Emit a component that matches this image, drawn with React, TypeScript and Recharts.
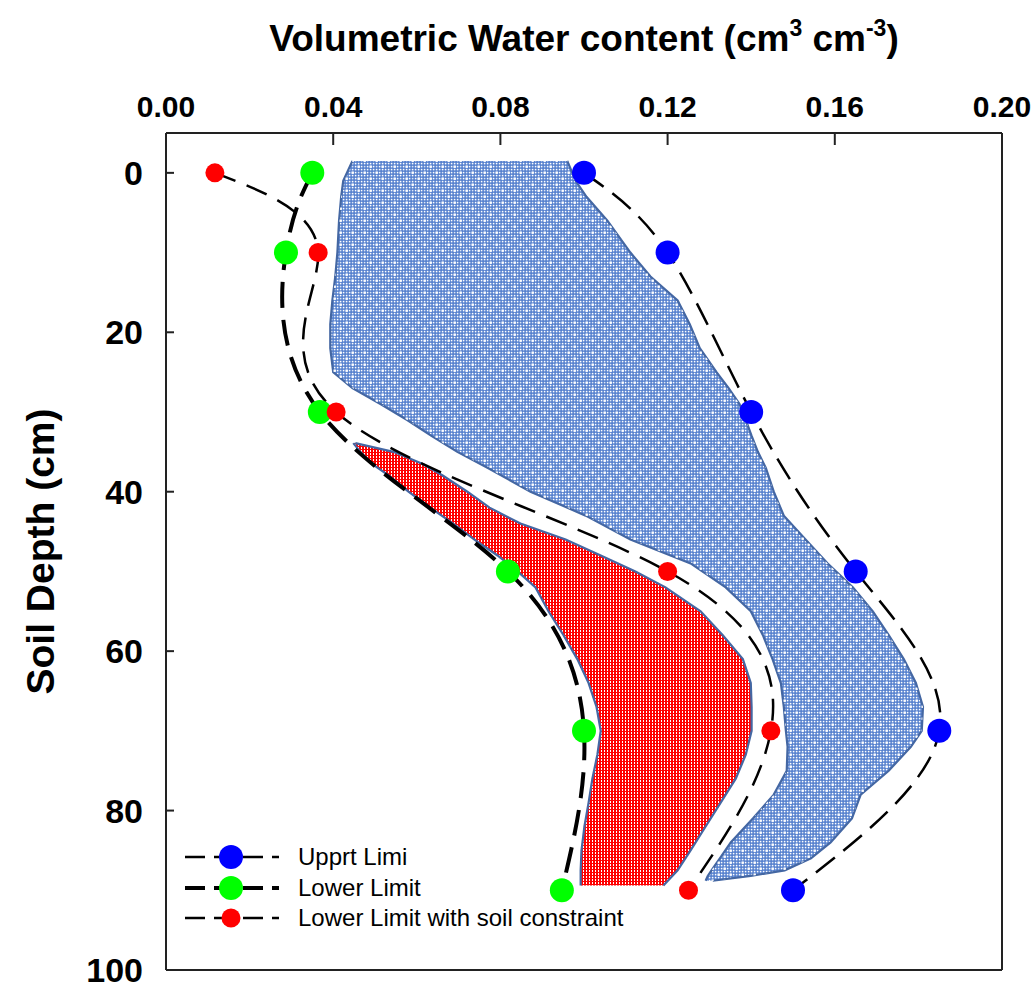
import React from 'react';
import { ComposedChart, Line, Area, XAxis, YAxis, Legend, Label } from 'recharts';

// ---- data ----
const depths = [0, 10, 30, 50, 70, 90];
const upperLimit = [0.1, 0.12, 0.14, 0.165, 0.185, 0.15];
const lowerLimit = [0.035, 0.0287, 0.0368, 0.0818, 0.1, 0.0947];
const lowerLimitConstraint = [0.0117, 0.0364, 0.0407, 0.12, 0.1447, 0.125];

const seriesNames = ['Upprt Limi', 'Lower Limit', 'Lower Limit with soil constraint'];

// blue shaded region (available water), left/right boundary per depth
const blueShapeDepth = [-1.5, 1, 3, 6, 10, 13, 16, 19, 22, 25, 27, 29, 31, 33, 35, 37, 40, 43, 46, 49, 52, 55, 58, 61, 64, 67, 70, 72, 75, 78, 81, 84, 86, 87.5, 88.2, 88.8];
const blueShapeLeft = [0.0446, 0.0424, 0.0419, 0.0414, 0.041, 0.0405, 0.0398, 0.0393, 0.0393, 0.04, 0.0446, 0.0513, 0.0577, 0.0635, 0.0697, 0.0769, 0.0872, 0.1004, 0.1111, 0.1255, 0.1339, 0.1399, 0.1428, 0.1451, 0.1471, 0.1478, 0.1483, 0.1487, 0.1485, 0.1454, 0.1404, 0.1351, 0.1325, 0.1305, 0.1296, 0.1291];
const blueShapeRight = [0.096, 0.098, 0.1006, 0.1056, 0.1111, 0.1159, 0.1224, 0.1253, 0.1277, 0.1317, 0.1346, 0.1372, 0.1387, 0.1401, 0.1416, 0.1435, 0.1454, 0.1478, 0.153, 0.1583, 0.1643, 0.1691, 0.1729, 0.1765, 0.1794, 0.1811, 0.1808, 0.1782, 0.1729, 0.1662, 0.1641, 0.159, 0.1543, 0.148, 0.1399, 0.1308];

// red shaded region
const redShapeDepth = [33.9, 35, 36.5, 38, 40, 42, 44, 46, 48, 50, 52, 55, 58, 61, 64, 67, 70, 73, 76, 79, 82, 85, 87.5, 89.4];
const redShapeLeft = [0.0448, 0.0465, 0.0493, 0.0534, 0.058, 0.0632, 0.0687, 0.0738, 0.0793, 0.0841, 0.0884, 0.0915, 0.0951, 0.0984, 0.1011, 0.103, 0.104, 0.1032, 0.102, 0.1011, 0.1001, 0.0994, 0.0992, 0.0992];
const redShapeRight = [0.0453, 0.0544, 0.0613, 0.0663, 0.0721, 0.0774, 0.0848, 0.0956, 0.104, 0.1123, 0.1195, 0.1279, 0.1332, 0.138, 0.1399, 0.1401, 0.1401, 0.1387, 0.1363, 0.1327, 0.1291, 0.1255, 0.1224, 0.119];

const xTicks = [0, 0.04, 0.08, 0.12, 0.16, 0.2];
const xBottomTicks = [0.035, 0.07, 0.105, 0.14, 0.175];
const yTicks = [0, 20, 40, 60, 80, 100];

// ---- derived tables ----
const toRows = (vals: number[]) => depths.map((d, i) => ({ depth: d, value: vals[i] }));
const toRange = (ds: number[], lo: number[], hi: number[]) =>
  ds.map((d, i) => ({ depth: d, range: [lo[i], hi[i]] }));

const upperRows = toRows(upperLimit);
const lowerRows = toRows(lowerLimit);
const constraintRows = toRows(lowerLimitConstraint);
const blueRows = toRange(blueShapeDepth, blueShapeLeft, blueShapeRight);
const redRows = toRange(redShapeDepth, redShapeLeft, redShapeRight);

const FONT = "'Liberation Sans', Arial, Helvetica, sans-serif";
const AXIS = '#222';

const styles = [
  { color: '#0000ff', r: 12, width: 2.5, dash: '24 11' },
  { color: '#00ff00', r: 12, width: 4, dash: '26 12' },
  { color: '#ff0000', r: 9.5, width: 2.5, dash: '22 12' },
];

const makeDot = (color: string, r: number) => (p: any) => (
  <circle key={`dot-${color}-${p.index}`} cx={p.cx} cy={p.cy} r={r} fill={color} stroke="none" />
);

const XTitle = (props: any) => {
  const vb = props.viewBox || { x: 166, width: 836 };
  const cx = vb.x + vb.width / 2;
  return (
    <text x={cx} y={51} textAnchor="middle" fontFamily={FONT} fontWeight="bold" fontSize={37} fill="#000">
      Volumetric Water content (cm
      <tspan dy={-15} fontSize={23}>3</tspan>
      <tspan dy={15}> cm</tspan>
      <tspan dy={-15} fontSize={23}>-3</tspan>
      <tspan dy={15}>)</tspan>
    </text>
  );
};

const YTitle = (props: any) => {
  const vb = props.viewBox || { y: 133, height: 837 };
  const cy = vb.y + vb.height / 2;
  const x = 54;
  return (
    <text x={x} y={cy} transform={`rotate(-90, ${x}, ${cy})`} textAnchor="middle" fontFamily={FONT} fontWeight="bold" fontSize={39} fill="#000">
      Soil Depth (cm)
    </text>
  );
};

const LegendContent = () => (
  <div style={{ position: 'relative', width: 540, height: 95, fontFamily: FONT, fontSize: 24, color: '#000' }}>
    {seriesNames.map((name, i) => (
      <div key={name} style={{ position: 'absolute', left: 0, top: i * 30.5, height: 30, display: 'flex', alignItems: 'center' }}>
        <svg width={100} height={30} style={{ display: 'block' }}>
          <line x1={2} x2={96} y1={15} y2={15} stroke="#000" strokeWidth={styles[i].width} strokeDasharray="20 9" />
          <circle cx={48} cy={15} r={styles[i].r} fill={styles[i].color} />
        </svg>
        <span style={{ marginLeft: 15, lineHeight: '30px', whiteSpace: 'nowrap' }}>{name}</span>
      </div>
    ))}
  </div>
);

export default function App() {
  const seriesRows = [upperRows, lowerRows, constraintRows];
  return (
    <div style={{ position: 'absolute', left: 0, top: 0, width: 1035, height: 984, background: '#fff' }}>
      <ComposedChart width={1035} height={984} layout="vertical" margin={{ top: 0, right: 0, bottom: 0, left: 0 }}>
        <defs>
          <pattern id="bluePat" width={6} height={6} patternUnits="userSpaceOnUse">
            <rect width={6} height={6} fill="#4f7ccc" />
            <rect x={0.8} y={0.8} width={1.6} height={1.6} fill="#ffffff" />
            <rect x={3.8} y={0.8} width={1.6} height={1.6} fill="#ffffff" />
            <rect x={0.8} y={3.8} width={1.6} height={1.6} fill="#ffffff" />
            <rect x={3.8} y={3.8} width={1.6} height={1.6} fill="#ffffff" opacity={0.8} />
          </pattern>
          <pattern id="blueDots" width={12} height={12} patternUnits="userSpaceOnUse">
            <rect x={3.5} y={3.5} width={2.4} height={2.4} fill="#ffffff" />
            <rect x={9.5} y={9.5} width={2.4} height={2.4} fill="#ffffff" />
          </pattern>
          <pattern id="redPat" width={3} height={3} patternUnits="userSpaceOnUse">
            <rect width={3} height={3} fill="#ff0000" />
            <rect x={1} y={0} width={1} height={2} fill="#ffffff" />
          </pattern>
        </defs>

        <XAxis
          xAxisId="top"
          type="number"
          orientation="top"
          domain={[0, 0.2]}
          allowDataOverflow
          ticks={xTicks}
          interval={0}
          tickFormatter={(v: number) => v.toFixed(2)}
          height={133}
          tickSize={-12}
          tickMargin={28}
          axisLine={{ stroke: AXIS, strokeWidth: 2 }}
          tickLine={{ stroke: AXIS, strokeWidth: 2 }}
          tick={{ fill: '#000', fontSize: 30, fontWeight: 'bold', fontFamily: FONT }}
        >
          <Label content={<XTitle />} />
        </XAxis>
        <XAxis
          xAxisId="bottom"
          type="number"
          orientation="bottom"
          domain={[0, 0.2]}
          allowDataOverflow
          ticks={xBottomTicks}
          interval={0}
          height={14}
          tickSize={-11}
          tick={false}
          axisLine={{ stroke: AXIS, strokeWidth: 2 }}
          tickLine={{ stroke: AXIS, strokeWidth: 2 }}
        />
        <YAxis
          yAxisId="left"
          type="number"
          dataKey="depth"
          domain={[-5, 100]}
          allowDataOverflow
          ticks={yTicks}
          interval={0}
          width={166}
          tickSize={-8}
          tickMargin={31}
          axisLine={{ stroke: AXIS, strokeWidth: 2 }}
          tickLine={{ stroke: AXIS, strokeWidth: 2 }}
          tick={{ fill: '#000', fontSize: 34, fontWeight: 'bold', fontFamily: FONT }}
        >
          <Label content={<YTitle />} />
        </YAxis>
        <YAxis
          yAxisId="right"
          orientation="right"
          type="number"
          domain={[-5, 100]}
          allowDataOverflow
          ticks={yTicks}
          interval={0}
          width={33}
          tickSize={-8}
          tick={false}
          axisLine={{ stroke: AXIS, strokeWidth: 2 }}
          tickLine={{ stroke: AXIS, strokeWidth: 2 }}
        />

        <Area
          xAxisId="top"
          yAxisId="left"
          data={blueRows}
          dataKey="range"
          type="linear"
          fill="url(#bluePat)"
          fillOpacity={1}
          stroke="#4467a3"
          strokeWidth={2.2}
          legendType="none"
          isAnimationActive={false}
        />
        <Area
          xAxisId="top"
          yAxisId="left"
          data={blueRows}
          dataKey="range"
          type="linear"
          fill="url(#blueDots)"
          fillOpacity={1}
          stroke="none"
          legendType="none"
          isAnimationActive={false}
        />
        <Area
          xAxisId="top"
          yAxisId="left"
          data={redRows}
          dataKey="range"
          type="linear"
          fill="url(#redPat)"
          fillOpacity={1}
          stroke="#4467a3"
          strokeWidth={2.2}
          legendType="none"
          isAnimationActive={false}
        />

        {seriesRows.map((rows, i) => (
          <Line
            key={seriesNames[i]}
            xAxisId="top"
            yAxisId="left"
            data={rows}
            dataKey="value"
            name={seriesNames[i]}
            type="natural"
            stroke="#000"
            strokeWidth={styles[i].width}
            strokeDasharray={styles[i].dash}
            dot={makeDot(styles[i].color, styles[i].r)}
            activeDot={false}
            isAnimationActive={false}
          />
        ))}

        <Legend
          layout="vertical"
          align="center"
          verticalAlign="middle"
          content={<LegendContent />}
          wrapperStyle={{ left: 183, top: 842, width: 540, height: 95 }}
        />
      </ComposedChart>
    </div>
  );
}
